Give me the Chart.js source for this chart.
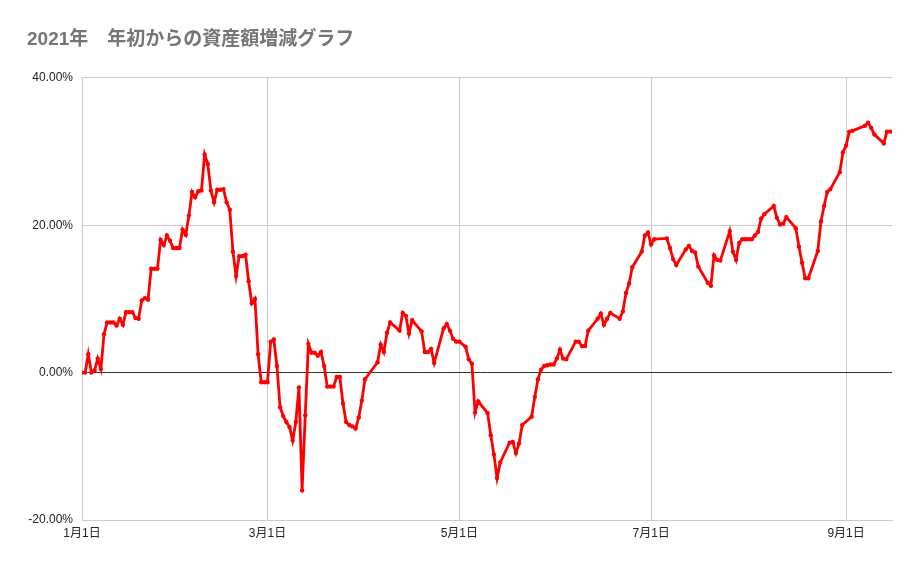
<!DOCTYPE html>
<html lang="ja">
<head>
<meta charset="utf-8">
<script src="https://cdn.jsdelivr.net/npm/chart.js@4"></script>
<style>
	html, body { margin: 0; padding: 0; background: #fff; }
</style>
</head>
<body>
<canvas id="myChart" width="921" height="569"></canvas>
<script>
// days since Jan 1 2021
var days = [
	0, 1, 2, 3, 4, 5, 6, 7, 8, 9, 10, 11, 12, 13, 14, 15, 16, 17, 18, 19,
	20, 21, 22, 23, 24, 25, 26, 27, 28, 29, 30, 31, 32, 33, 34, 35, 36, 37, 38, 39,
	40, 41, 42, 43, 44, 45, 46, 47, 48, 49, 50, 51, 52, 53, 54, 55, 56, 57, 58, 59,
	60, 61, 62, 63, 64, 65, 66, 67, 68, 69, 70, 71, 72, 73, 74, 75, 76, 77, 78, 79,
	80, 81, 82, 83, 84, 85, 86, 87, 88, 89, 90, 94, 95, 96, 97, 98, 101, 102, 103, 104,
	105, 108, 109, 110, 111, 112, 115, 116, 117, 118, 119, 120, 122, 123, 124, 125, 126, 129, 130, 131,
	132, 133, 136, 137, 138, 139, 140, 143, 144, 145, 146, 147, 148, 149, 150, 151, 152, 153, 154, 157,
	158, 159, 160, 161, 164, 165, 166, 167, 168, 171, 172, 173, 174, 175, 178, 179, 180, 181, 182, 186,
	187, 188, 189, 192, 193, 194, 195, 196, 199, 200, 201, 202, 203, 206, 207, 208, 209, 210, 211, 212,
	213, 214, 215, 216, 217, 220, 221, 222, 223, 224, 227, 228, 229, 230, 231, 234, 235, 236, 237, 238,
	241, 242, 243, 244, 245, 249, 250, 251, 252, 255, 256, 257
];
// % change from start of year
var values = [
	0, 0, 2.5, 0, 0.3, 1.9, 0.5, 5.2, 6.8, 6.8, 6.8, 6.4, 7.3, 6.5, 8.2, 8.2, 8.2, 7.4, 7.3, 9.8,
	10.1, 9.9, 14.1, 14.1, 14.1, 18.0, 17.3, 18.6, 17.9, 16.9, 16.9, 16.9, 19.4, 18.7, 21.3, 24.5, 23.8, 24.6, 24.7, 29.6,
	28.3, 24.7, 23.1, 24.8, 24.8, 24.9, 23.1, 22.1, 16.4, 13.1, 15.8, 15.8, 16.0, 12.4, 9.4, 10.0, 2.5, -1.3, -1.3, -1.3,
	4.2, 4.5, 0.9, -4.7, -5.9, -6.7, -7.4, -9.2, -6.7, -2.0, -16.0, -5.8, 3.9, 2.7, 2.7, 2.3, 2.8, 0.9, -1.9, -1.9,
	-1.9, -0.6, -0.6, -4.2, -6.7, -7.1, -7.3, -7.6, -6.1, -3.8, -0.9, 1.4, 3.8, 2.8, 5.4, 6.8, 5.7, 8.1, 7.7, 5.3,
	7.1, 5.6, 2.8, 2.8, 3.2, 1.3, 6.0, 6.6, 5.7, 4.6, 4.2, 4.2, 3.5, 1.8, 1.2, -5.4, -3.9, -5.5, -8.5, -11.1,
	-14.3, -12.2, -9.5, -9.4, -10.9, -9.6, -7.1, -6.0, -3.3, -0.9, 0.4, 0.9, 1.0, 1.1, 1.1, 1.9, 3.1, 1.9, 1.8, 4.2,
	4.2, 3.6, 3.6, 5.7, 7.3, 8.0, 6.5, 7.3, 8.1, 7.3, 8.3, 10.8, 12.1, 14.3, 16.4, 18.6, 19.0, 17.4, 18.1, 18.2,
	16.9, 15.4, 14.6, 16.7, 17.2, 16.5, 16.3, 14.4, 12.2, 11.8, 15.9, 15.3, 15.2, 19.2, 16.4, 15.3, 17.6, 18.1, 18.1, 18.1,
	18.1, 18.6, 19.1, 20.9, 21.5, 22.6, 21.0, 20.1, 20.2, 21.1, 19.6, 17.1, 14.9, 12.8, 12.8, 16.5, 20.5, 22.6, 24.5, 24.9,
	27.2, 29.9, 30.8, 32.7, 32.8, 33.5, 33.9, 33.2, 32.3, 31.1, 32.7, 32.7
];
var tickDays = [0, 59, 120, 181, 243];
var tickLabels = ["1月1日", "3月1日", "5月1日", "7月1日", "9月1日"];

Chart.defaults.font.family = "'Liberation Sans', Arial, 'Noto Sans CJK JP', sans-serif";

var points = days.map(function (d, i) {
	return { x: d, y: values[i] };
});

new Chart("myChart", {
	type: "line",
	data: {
		datasets: [
			{
				data: points,
				borderColor: "#ff0000",
				backgroundColor: "#ff0000",
				borderWidth: 2.8,
				pointRadius: 2.2,
				pointBorderWidth: 0,
				tension: 0,
			},
		],
	},
	options: {
		responsive: false,
		animation: false,
		layout: { padding: { left: 27, right: 29, top: 0, bottom: 0 } },
		plugins: {
			legend: { display: false },
			tooltip: { enabled: false },
			title: {
				display: true,
				text: "2021年　年初からの資産額増減グラフ",
				align: "start",
				color: "#757575",
				font: { size: 19, weight: "bold" },
				padding: { top: 28, bottom: 27 },
			},
		},
		scales: {
			x: {
				type: "linear",
				min: 0,
				max: 257.6,
				afterBuildTicks: function (scale) {
					scale.ticks = tickDays.map(function (v) {
						return { value: v };
					});
				},
				afterFit: function (scale) {
					scale.height = 49;
				},
				grid: { color: "#cccccc", drawTicks: false },
				border: { color: "#cccccc" },
				ticks: {
					padding: 6,
					color: "#222",
					font: { size: 12 },
					maxRotation: 0,
					autoSkip: false,
					callback: function (v) {
						return tickLabels[tickDays.indexOf(v)];
					},
				},
			},
			y: {
				min: -20,
				max: 40,
				afterFit: function (scale) {
					scale.width = 55;
				},
				grid: {
					color: function (ctx) {
						return ctx.tick && ctx.tick.value === 0 ? "#333333" : "#cccccc";
					},
					drawTicks: false,
				},
				border: { color: "#cccccc" },
				ticks: {
					stepSize: 20,
					padding: 9,
					color: "#222",
					font: { size: 12 },
					callback: function (v) {
						return v.toFixed(2) + "%";
					},
				},
			},
		},
	},
});
</script>
</body>
</html>
